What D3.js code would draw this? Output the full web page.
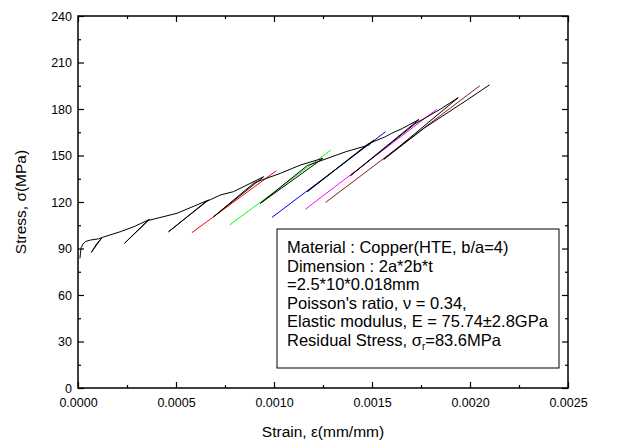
<!DOCTYPE html>
<html lang="en">
<head>
    <meta charset="UTF-8">
    <title>Stress-strain</title>
    <script src="https://d3js.org/d3.v7.min.js"></script>
    <style>
        body { margin: 0; background: #fff; }
        svg { font-family: "Liberation Sans", Arial, sans-serif; }
        .tick text { font-size: 12.5px; fill: #000; }
        .tick line { stroke: #000; stroke-width: 1.2; }
        .curve { fill: none; stroke: #000; stroke-width: 1; }
        .fit { fill: none; stroke-width: 1; }
        .note { font-size: 16.5px; fill: #000; }
    </style>
</head>
<body>
<script>
    const width = 619;
    const height = 444;

    // measured curve (load / unload / reload cycles)
    const curveStrain = [0.000010, 0.000012, 0.000016, 0.000026, 0.000040, 0.000065, 0.000105, 0.000122,
        0.000068, 0.000095, 0.000125,
        0.000215, 0.000286, 0.000365,
        0.000237, 0.000355,
        0.000505, 0.000666,
        0.000462, 0.000650,
        0.000726, 0.000794, 0.000947,
        0.000692, 0.000900, 0.001033, 0.001136, 0.001250,
        0.000930, 0.001170, 0.001368, 0.001486, 0.001510,
        0.001170, 0.001480, 0.001570, 0.001600, 0.001656, 0.001740,
        0.001390, 0.001720, 0.001850, 0.001940,
        0.001560, 0.001770, 0.001980, 0.002100];
    const curveStress = [83.6, 86.5, 90.5, 93.0, 94.6, 95.5, 96.2, 97.0,
        87.5, 93.0, 97.2,
        100.8, 104.1, 108.8,
        93.3, 108.0,
        112.7, 121.3,
        100.8, 120.0,
        124.5, 126.7, 136.3,
        110.5, 132.5, 138.5, 143.9, 148.2,
        119.1, 143.5, 152.5, 156.8, 160.0,
        126.7, 157.5, 162.2, 164.3, 167.5, 173.2,
        137.0, 170.5, 180.0, 187.3,
        147.5, 168.0, 185.4, 195.6];

    // elastic fit lines of the unloading segments
    const fitColors = ["#ff0000", "#00ff00", "#0000ff", "#ff00ff", "#8b1a1a"];
    const fitStrain = [[0.000581, 0.001012], [0.000774, 0.001290], [0.000990, 0.001570],
        [0.001160, 0.001830], [0.001263, 0.002050]];
    const fitStress = [[100.2, 140.2], [105.2, 153.5], [110.1, 165.4],
        [115.3, 179.8], [119.7, 195.0]];

    const xTicks = [0, 0.0005, 0.001, 0.0015, 0.002, 0.0025];
    const xMinor = [0.00025, 0.00075, 0.00125, 0.00175, 0.00225];
    const yTicks = [0, 30, 60, 90, 120, 150, 180, 210, 240];
    const yMinor = [15, 45, 75, 105, 135, 165, 195, 225];

    const noteLines = ["Material : Copper(HTE, b/a=4)", "Dimension : 2a*2b*t", "=2.5*10*0.018mm",
        "Poisson's ratio, \u03bd = 0.34,", "Elastic modulus, E = 75.74\u00b12.8GPa", "Residual Stress, \u03c3"];

    const x0 = 78, x1 = 568, y0 = 388, y1 = 16;

    const svg = d3.select("body").append("svg")
            .attr("width", width).attr("height", height);

    const x = d3.scaleLinear().domain([0, 0.0025]).range([x0, x1]);
    const y = d3.scaleLinear().domain([0, 240]).range([y0, y1]);

    // axes, ticks pointing inward
    svg.append("g").attr("transform", `translate(0,${y0})`)
        .call(d3.axisBottom(x).tickValues(xTicks).tickSize(-6).tickPadding(10).tickFormat(d3.format(".4f")));
    svg.append("g").attr("transform", `translate(0,${y0})`)
        .call(d3.axisBottom(x).tickValues(xMinor).tickSize(-3).tickFormat(""));
    svg.append("g").attr("transform", `translate(0,${y1})`)
        .call(d3.axisTop(x).tickValues(xTicks).tickSize(-6).tickFormat(""));
    svg.append("g").attr("transform", `translate(0,${y1})`)
        .call(d3.axisTop(x).tickValues(xMinor).tickSize(-3).tickFormat(""));
    svg.append("g").attr("transform", `translate(${x0},0)`)
        .call(d3.axisLeft(y).tickValues(yTicks).tickSize(-6).tickPadding(6));
    svg.append("g").attr("transform", `translate(${x0},0)`)
        .call(d3.axisLeft(y).tickValues(yMinor).tickSize(-3).tickFormat(""));
    svg.append("g").attr("transform", `translate(${x1},0)`)
        .call(d3.axisRight(y).tickValues(yTicks).tickSize(-6).tickFormat(""));
    svg.append("g").attr("transform", `translate(${x1},0)`)
        .call(d3.axisRight(y).tickValues(yMinor).tickSize(-3).tickFormat(""));
    svg.selectAll(".domain").remove();

    svg.append("rect")
        .attr("x", x0).attr("y", y1).attr("width", x1 - x0).attr("height", y0 - y1)
        .attr("fill", "none").attr("stroke", "#000").attr("stroke-width", 1.5);

    const line = d3.line().x(d => x(d[0])).y(d => y(d[1]));

    // fit lines
    svg.selectAll("path.fit")
        .data(fitStrain.map((s, i) => s.map((v, j) => [v, fitStress[i][j]])))
        .enter()
        .append("path")
        .attr("class", "fit")
        .attr("stroke", (d, i) => fitColors[i])
        .attr("d", line);

    // measured curve
    svg.append("path")
        .attr("class", "curve")
        .attr("d", line(curveStrain.map((s, i) => [s, curveStress[i]])));

    // note box
    const box = svg.append("g");
    box.append("rect")
        .attr("x", 277).attr("y", 229).attr("width", 282).attr("height", 139)
        .attr("fill", "#fff").attr("stroke", "#000").attr("stroke-width", 1);
    const t = box.selectAll("text.note")
        .data(noteLines)
        .enter()
        .append("text")
        .attr("class", "note")
        .attr("x", 287)
        .attr("y", (d, i) => 253 + i * 18.6)
        .text(d => d);
    t.filter((d, i) => i === noteLines.length - 1)
        .append("tspan").attr("dy", 4).style("font-size", "10px").text("r");
    t.filter((d, i) => i === noteLines.length - 1)
        .append("tspan").attr("dy", -4).text("=83.6MPa");

    // axis titles
    svg.append("text")
        .attr("x", 323).attr("y", 437)
        .attr("text-anchor", "middle")
        .style("font-size", "15.5px")
        .text("Strain, \u03b5(mm/mm)");
    svg.append("text")
        .attr("transform", "translate(26,202) rotate(-90)")
        .attr("text-anchor", "middle")
        .style("font-size", "15.5px")
        .text("Stress, \u03c3(MPa)");
</script>

</body>
</html>
